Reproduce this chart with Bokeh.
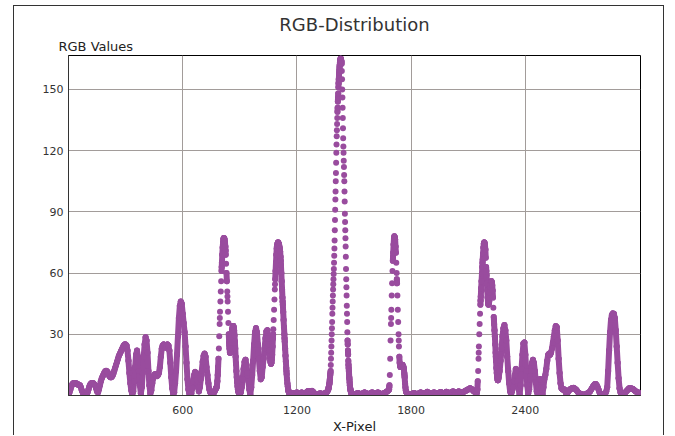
from bokeh.plotting import figure
from bokeh.models import Range1d, FixedTicker, Title
from bokeh.embed import file_html
from bokeh.resources import INLINE

# ---------------- data ----------------
# base series: one RGB value every 5 x-pixels, x = 0 .. 3000
x_pixel = list(range(0, 3001, 5))
rgb_values = [
    0.5, 1.5, 3, 4.5, 5.5, 6, 6, 6, 6, 5.5, 5.5, 5, 5, 4, 2.5, 1.5, 0.5, 0.2, 0, 0.5,
    1.5, 3, 4.5, 5.5, 6, 6, 6, 5.5, 5, 3.5, 2, 1.5, 3, 5, 7, 8.5, 9.5, 10.5, 11.5, 12,
    12, 11.5, 10.5, 9.5, 9, 9, 9.5, 10.5, 12, 13.5, 15, 16.5, 18, 19.5, 20.5, 21.5, 22.5, 23.5, 24.5, 25,
    25, 24.5, 22, 17, 11, 6, 2.5, 0.5, 2, 7, 14, 20, 22, 19, 12, 5, 1, 4, 11, 19,
    25, 28.5, 27, 21, 12, 5, 1, 2.5, 6, 8.5, 10, 10.5, 10, 9.5, 10, 11, 14, 19, 23, 24.5,
    25, 24.5, 23.5, 24, 25, 24.5, 22, 16, 9, 3.5, 1, 1.5, 6, 12, 20, 29, 38, 44, 46, 45,
    40, 35.5, 31, 24, 16, 8, 3, 1, 0.3, 1, 3.5, 7, 10, 11.5, 11, 7.5, 4, 2, 4, 8,
    12, 16.5, 19.5, 20.5, 19, 14, 10, 6, 3, 1.5, 1, 0.5, 1, 1.5, 2.5, 3.5, 5, 12, 23, 38,
    51, 63, 72.5, 77, 76.5, 71, 60, 48.5, 35.5, 24.5, 21, 27.5, 32.5, 34, 32, 25, 15.5, 8, 3, 1.2,
    0.6, 1.5, 4, 8, 13, 16.5, 17.5, 15, 11, 7, 3, 0.5, 4, 10, 17, 25, 31, 33, 31, 25,
    18, 12, 8, 9, 14, 18, 23, 28, 31.5, 32, 28, 22, 17, 15.8, 20, 30, 42, 54.5, 65, 73,
    75, 74.2, 72, 66, 56, 46, 37, 28, 19.5, 12, 6, 2.5, 1, 0.8, 1, 1.2, 1, 0.8, 1, 1.3,
    1.5, 1.2, 1, 1, 1.2, 1.5, 1.2, 1, 0.8, 1, 1.5, 2, 2.2, 2, 1.8, 2, 2.2, 1.8, 1.2, 0.8,
    0.5, 0.5, 0.6, 0.8, 1, 1, 0.8, 0.6, 0.8, 1, 1.2, 1.5, 2, 3, 5.5, 10, 21, 36, 52, 65,
    86, 109, 130, 144, 155, 162, 165, 162.5, 141, 119, 100, 77, 53, 31, 17, 9, 3.5, 1.2, 1, 0.8,
    0.6, 0.5, 0.8, 1, 1.2, 1, 0.8, 0.7, 0.8, 1, 1.2, 1.5, 1.3, 1, 0.8, 0.7, 0.8, 1, 1.3, 1.5,
    1.3, 1, 0.8, 1, 1.2, 1.5, 1.3, 1, 0.8, 0.7, 0.8, 1, 1.2, 1.5, 1.8, 2, 2.5, 4, 18, 38,
    55, 68, 77, 77, 70, 57, 42, 27, 16, 14, 15, 15, 14, 10, 4, 1.6, 1, 0.8, 0.6, 0.5,
    0.6, 0.8, 1, 1.2, 1, 0.8, 0.7, 0.8, 1, 1.2, 1.5, 1.3, 1, 0.8, 1, 1.2, 1.5, 1.8, 1.5, 1.2,
    1, 0.8, 1, 1.3, 1.5, 1.3, 1, 0.8, 1, 1.2, 1.5, 1.7, 1.5, 1.2, 1, 1.2, 1.5, 1.8, 1.6, 1.3,
    1.2, 1.3, 1.5, 1.8, 2, 1.8, 1.5, 1.3, 1.5, 1.8, 2, 1.8, 1.5, 1.3, 1.5, 1.8, 2, 2.2, 2.5, 2.8,
    3, 3.3, 3.5, 3.3, 3, 2.5, 2, 1.8, 1.5, 1.5, 7, 21, 35, 46.5, 56, 65, 72.5, 75, 71.5, 61,
    51.5, 45, 46, 52, 56, 55, 48, 37, 29, 19, 11, 7.5, 9, 12, 17, 23, 29, 33, 34.5, 32,
    27, 19, 12, 6, 2, 0.5, 2, 4, 7, 10, 13, 12, 7, 3, 0.5, 5, 13, 20, 25.5, 26,
    20, 12, 5, 1, 3, 8, 12, 16, 17.5, 16, 12, 6.5, 2, 0.5, 4, 8, 8, 4, 0.5, 4,
    8, 10, 13, 17, 20, 20.5, 20, 21, 23, 26, 29, 32, 34, 33.5, 27, 18, 11, 6, 3.5, 3,
    3, 3, 2, 1, 1, 2, 2.5, 3, 3.3, 3.5, 3.7, 3.7, 3.3, 3, 2.5, 1.8, 1.3, 1, 0.8, 0.6,
    0.5, 0.4, 0.4, 0.5, 0.7, 1, 1.3, 1.6, 2, 2.8, 3.6, 4.4, 5, 5.5, 5.6, 5, 4, 2.8, 1.5, 0.5,
    0.4, 0.4, 0.5, 0.6, 1, 2, 4, 12, 22, 31, 37, 39.5, 40.2, 40, 38, 32, 24, 16, 8.5, 3.5,
    1.5, 0.8, 0.4, 0.5, 1, 1.5, 2, 2.5, 3, 3.5, 3.6, 3.5, 3.3, 3.2, 2.8, 2.4, 2, 1.8, 1.6, 1.4,
    1.3,
]

# finer samples on the steep peaks
peak_a_x = list(range(776, 897, 2))
peak_a_y = [
    3.5, 4, 5, 7, 10, 14, 18, 23, 29, 35, 41, 46, 51, 56, 61, 65, 69, 72.5, 75, 76.5,
    77, 77, 76.5, 75, 73, 69, 64.5, 60, 56, 51, 46, 41, 35.5, 30, 26, 23, 21, 21, 23, 26,
    29, 31, 32.5, 33.5, 34, 34, 33.5, 32, 29.5, 26.5, 23, 19, 15.5, 12, 9, 6.5, 4.5, 3, 2, 1.5,
    1,
]
peak_b_x = list(range(1060, 1161, 2))
peak_b_y = [
    17, 16, 15.5, 16, 17.5, 20, 24, 28, 32.5, 37, 42, 47, 52, 57, 61, 65, 69, 72, 73.5, 74.5,
    75, 75, 74.5, 74, 73, 72, 70.5, 68, 64, 60, 56, 52, 48, 44.5, 41, 37, 33.5, 30, 26.5, 23,
    19.5, 16.5, 13.5, 10.5, 8, 6, 4.5, 3, 2, 1.5, 1,
]
peak_c_x = list(range(1365, 1486, 1))
peak_c_y = [
    3, 3.5, 4, 4.5, 5, 5.5, 6, 7, 8, 9, 10, 11, 12, 15, 18, 21, 24, 27, 30, 33,
    36, 40, 43, 46, 49, 52, 54.5, 57, 59.5, 62, 65, 68.5, 72, 76, 81, 86, 91, 96, 100, 105,
    109, 114, 119, 123, 127, 130, 133, 136, 139, 141, 144, 146, 148, 151, 153, 155, 156.5, 158, 159.5, 161,
    162, 163, 164, 164.5, 165, 165, 165, 164.5, 164, 163.5, 162.5, 159, 155, 150, 146, 141, 136, 131, 126, 122,
    119, 115, 112, 108, 105, 100, 95, 89, 85, 81, 77, 73, 68, 62, 57, 53, 49, 44, 40, 36,
    31, 27, 25, 22, 20, 17, 15, 13.5, 12, 10.5, 9, 8, 6.5, 5, 4, 3.5, 3, 2.5, 2, 1.5,
    1.2,
]
peak_d_x = list(range(1680, 1781, 2))
peak_d_y = [
    2.5, 2.8, 3, 5, 10, 18, 27, 35, 42, 49, 55, 61, 66, 70, 74, 77, 78, 77.5, 76.5, 73,
    70, 65, 60, 55, 49, 42, 36, 30, 24, 19, 16, 14.5, 14, 14, 14.5, 15, 15, 15, 14.5, 14,
    14, 13, 11, 9, 6, 4, 2.5, 1.8, 1.5, 1.2, 1,
]
peak_e_x = list(range(2144, 2261, 2))
peak_e_y = [
    1.5, 1.5, 3, 7, 12, 18, 24, 30, 35, 40, 44.5, 48.5, 52.5, 56, 59.5, 63, 66.5, 69.5, 72.5, 74.5,
    75, 74.5, 73.5, 71.5, 67.5, 63, 59, 55, 51.5, 48, 45.5, 44.5, 45, 46, 48, 50.5, 53, 55, 56, 56,
    55.5, 54, 51.5, 48, 43, 38.5, 35, 32, 29, 25, 21, 17, 13.5, 11, 9, 8, 7.5, 8, 9,
]

x_ticks = [600, 1200, 1800, 2400]
y_ticks = [30, 60, 90, 120, 150]

# ---------------- merge samples ----------------
samples = dict(zip(x_pixel, rgb_values))
for px_list, py_list in ((peak_a_x, peak_a_y), (peak_b_x, peak_b_y), (peak_c_x, peak_c_y),
                         (peak_d_x, peak_d_y), (peak_e_x, peak_e_y)):
    samples.update(zip(px_list, py_list))
xs = sorted(samples)
ys = [samples[x] for x in xs]

# connect neighbours where the curve is gentle (the steep flanks stay dotted)
x0, y0, x1, y1 = [], [], [], []
for i in range(len(xs) - 1):
    dx = xs[i + 1] - xs[i]
    dy = ys[i + 1] - ys[i]
    if abs(dy / dx) <= 2.2:
        x0.append(xs[i]); y0.append(ys[i]); x1.append(xs[i + 1]); y1.append(ys[i + 1])

PURPLE = "#994c9e"
FONT = "DejaVu Sans"

p = figure(width=651, height=430, x_range=Range1d(0, 3005), y_range=Range1d(0, 166.6),
           output_backend="svg", toolbar_location=None,
           min_border_left=54, min_border_right=25, min_border_top=49, min_border_bottom=40,
           title="RGB-Distribution")

p.title.align = "center"
p.title.text_font = FONT
p.title.text_font_size = "18px"
p.title.text_font_style = "normal"
p.title.text_color = "#333333"
p.title.standoff = 2

p.add_layout(Title(text="RGB Values", align="left", offset=-10, text_font=FONT,
                   text_font_size="13px", text_font_style="normal", text_color="#222222",
                   standoff=3), "above")

p.background_fill_color = "white"
p.border_fill_color = "white"
p.outline_line_color = "black"
p.outline_line_width = 1

for ax, ticks in ((p.xaxis, x_ticks), (p.yaxis, y_ticks)):
    ax.ticker = FixedTicker(ticks=ticks)
    ax.major_tick_in = 0
    ax.major_tick_out = 0
    ax.minor_tick_in = 0
    ax.minor_tick_out = 0
    ax.axis_line_color = "#333333"
    ax.major_label_text_font = FONT
    ax.major_label_text_font_size = "11px"
    ax.major_label_text_color = "#333333"

p.yaxis.major_label_standoff = 5
p.xaxis.major_label_standoff = 10
p.xaxis.axis_label = "X-Pixel"
p.xaxis.axis_label_text_font = FONT
p.xaxis.axis_label_text_font_size = "13px"
p.xaxis.axis_label_text_font_style = "normal"
p.xaxis.axis_label_text_color = "#222222"
p.xaxis.axis_label_standoff = 2

p.xgrid.ticker = FixedTicker(ticks=x_ticks)
p.ygrid.ticker = FixedTicker(ticks=y_ticks)
p.grid.grid_line_color = "#a29c9a"
p.grid.grid_line_width = 1

p.segment(x0=x0, y0=y0, x1=x1, y1=y1, line_color=PURPLE, line_width=6, line_cap="round")
p.scatter(x=xs, y=ys, size=6, fill_color=PURPLE, line_color=PURPLE, line_width=0)

p.styles = {"border-top": "1px solid #333", "border-left": "1px solid #333",
            "border-right": "1px solid #333", "margin-left": "13px", "margin-top": "5px"}

open("out.html", "w").write(file_html(p, INLINE))
